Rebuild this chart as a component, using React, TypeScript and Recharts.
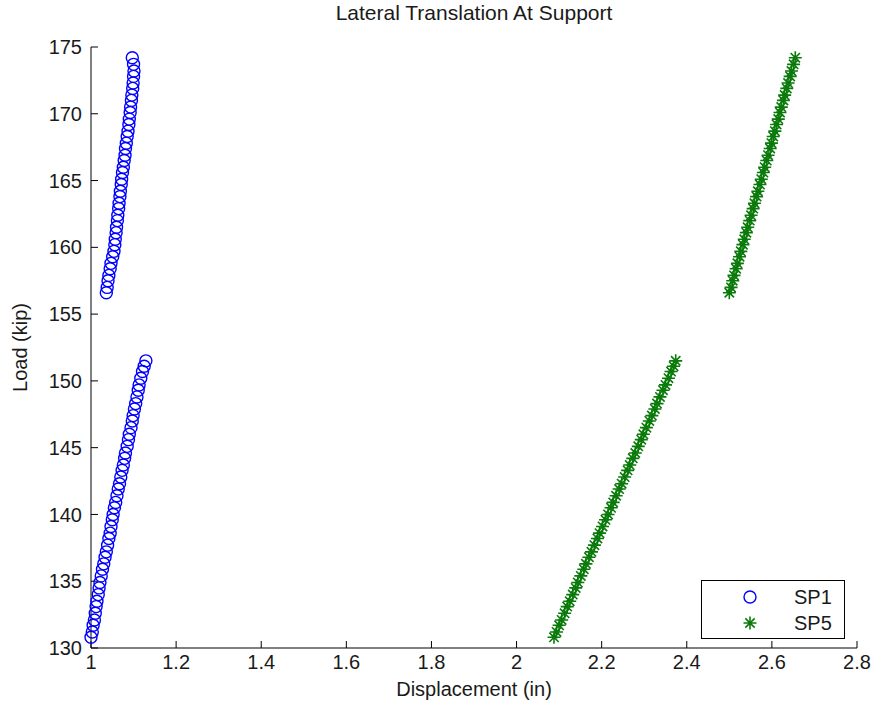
import { ScatterChart, Scatter, XAxis, YAxis, Legend } from 'recharts';

// load steps (kip), shared by both gauges
const loadLower = [
    130.8, 131.2, 131.7, 132.1, 132.6, 133.1, 133.5, 134.0, 134.5, 134.9,
    135.4, 135.9, 136.3, 136.8, 137.2, 137.7, 138.2, 138.6, 139.1, 139.6,
    140.0, 140.5, 140.9, 141.4, 141.9, 142.3, 142.8, 143.3, 143.7, 144.2,
    144.6, 145.1, 145.6, 146.0, 146.5, 147.0, 147.4, 147.9, 148.3, 148.8,
    149.3, 149.7, 150.2, 150.7, 151.1, 151.5,
];
const loadUpper = [
    156.6, 157.0, 157.5, 157.9, 158.4, 158.8, 159.3, 159.7, 160.2, 160.6,
    161.1, 161.5, 162.0, 162.4, 162.9, 163.3, 163.8, 164.2, 164.7, 165.1,
    165.6, 166.0, 166.5, 166.9, 167.4, 167.8, 168.3, 168.7, 169.2, 169.6,
    170.1, 170.5, 171.0, 171.4, 171.9, 172.3, 172.8, 173.2, 173.7, 174.2,
];

// displacement (in)
const sp1Lower = [
    1.000, 1.003, 1.005, 1.008, 1.010, 1.012, 1.014, 1.017, 1.019, 1.021,
    1.024, 1.027, 1.030, 1.033, 1.036, 1.039, 1.042, 1.045, 1.047, 1.050,
    1.052, 1.055, 1.058, 1.061, 1.064, 1.067, 1.070, 1.073, 1.076, 1.079,
    1.081, 1.085, 1.088, 1.090, 1.094, 1.097, 1.099, 1.102, 1.105, 1.108,
    1.111, 1.113, 1.117, 1.121, 1.125, 1.129,
];
const sp1Upper = [
    1.036, 1.038, 1.040, 1.042, 1.045, 1.047, 1.051, 1.054, 1.056, 1.057,
    1.059, 1.060, 1.062, 1.063, 1.065, 1.066, 1.068, 1.069, 1.071, 1.072,
    1.074, 1.076, 1.078, 1.080, 1.081, 1.083, 1.085, 1.087, 1.089, 1.090,
    1.092, 1.093, 1.095, 1.096, 1.098, 1.099, 1.100, 1.101, 1.100, 1.097,
];
const sp5Lower = [
    2.088, 2.094, 2.100, 2.106, 2.113, 2.119, 2.125, 2.132, 2.139, 2.144,
    2.151, 2.158, 2.163, 2.170, 2.176, 2.183, 2.190, 2.195, 2.202, 2.209,
    2.215, 2.222, 2.227, 2.234, 2.241, 2.247, 2.254, 2.261, 2.266, 2.273,
    2.279, 2.286, 2.293, 2.298, 2.305, 2.312, 2.318, 2.325, 2.330, 2.337,
    2.344, 2.350, 2.357, 2.363, 2.369, 2.374,
];
const sp5Upper = [
    2.500, 2.504, 2.508, 2.511, 2.516, 2.519, 2.524, 2.527, 2.532, 2.535,
    2.540, 2.543, 2.548, 2.551, 2.556, 2.559, 2.564, 2.567, 2.572, 2.575,
    2.580, 2.583, 2.588, 2.591, 2.596, 2.599, 2.603, 2.607, 2.611, 2.615,
    2.619, 2.622, 2.627, 2.630, 2.635, 2.638, 2.643, 2.646, 2.651, 2.655,
];

const xTicks = [1, 1.2, 1.4, 1.6, 1.8, 2, 2.2, 2.4, 2.6, 2.8];
const yTicks = [130, 135, 140, 145, 150, 155, 160, 165, 170, 175];

const BLUE = '#0000ff';
const GREEN = '#0a7a0a';
const FONT = '"Liberation Sans", Arial, sans-serif';
const TEXT = '#1a1a1a';

const toPoints = (disp: number[], load: number[]) => disp.map((x, i) => ({ x, y: load[i] }));
const sp1 = [...toPoints(sp1Lower, loadLower), ...toPoints(sp1Upper, loadUpper)];
const sp5 = [...toPoints(sp5Lower, loadLower), ...toPoints(sp5Upper, loadUpper)];

const Circle = ({ cx, cy }: any) => (
    <circle cx={cx} cy={cy} r={6} fill="none" stroke={BLUE} strokeWidth={1.4} />
);

const Star = ({ cx, cy }: any) => {
    const r = 6.5;
    const d = r * 0.72;
    return (
        <path
            d={`M${cx - r},${cy}H${cx + r}M${cx},${cy - r}V${cy + r}M${cx - d},${cy - d}L${cx + d},${cy + d}M${cx - d},${cy + d}L${cx + d},${cy - d}`}
            stroke={GREEN}
            strokeWidth={1.6}
            fill="none"
        />
    );
};

const LegendBox = ({ payload }: any) => (
    <div style={{ border: '1px solid #000', background: '#fff', width: 144, height: 59, boxSizing: 'border-box', padding: '3px 0 0 0', fontFamily: FONT, fontSize: 20, color: TEXT }}>
        {(payload || []).map((item: any) => (
            <div key={item.value} style={{ display: 'flex', alignItems: 'center', height: 26 }}>
                <svg width={92} height={20}>
                    {item.value === 'SP1' ? <Circle cx={48} cy={10} /> : <Star cx={48} cy={10} />}
                </svg>
                <span>{item.value}</span>
            </div>
        ))}
    </div>
);

export default function App() {
    return (
        <div style={{ position: 'absolute', left: 0, top: 0, width: 876, height: 715, background: '#fff', fontFamily: FONT }}>
            <div style={{ position: 'absolute', left: 91, top: 1, width: 766, textAlign: 'center', fontSize: 21, color: TEXT }}>
                Lateral Translation At Support
            </div>
            <ScatterChart width={876} height={715} margin={{ top: 47, right: 19, left: 0, bottom: 0 }}>
                <XAxis
                    type="number"
                    dataKey="x"
                    domain={[1, 2.8]}
                    ticks={xTicks}
                    height={67}
                    stroke="#000"
                    tickSize={-7}
                    tickMargin={14}
                    tick={{ fill: TEXT, fontSize: 20, fontFamily: FONT }}
                    label={{
                        content: ({ viewBox }: any) => (
                            <text x={viewBox.x + viewBox.width / 2} y={viewBox.y + 48} textAnchor="middle" fontSize={20} fontFamily={FONT} fill={TEXT}>
                                Displacement (in)
                            </text>
                        ),
                    }}
                />
                <YAxis
                    type="number"
                    dataKey="y"
                    domain={[130, 175]}
                    ticks={yTicks}
                    width={91}
                    stroke="#000"
                    tickSize={-7}
                    tickMargin={16}
                    tick={{ fill: TEXT, fontSize: 20, fontFamily: FONT }}
                    label={{
                        content: ({ viewBox }: any) => {
                            const cx = 20;
                            const cy = viewBox.y + viewBox.height / 2;
                            return (
                                <text x={cx} y={cy} transform={`rotate(-90 ${cx} ${cy})`} textAnchor="middle" dominantBaseline="central" fontSize={20} fontFamily={FONT} fill={TEXT}>
                                    Load (kip)
                                </text>
                            );
                        },
                    }}
                />
                <Legend
                    layout="horizontal"
                    verticalAlign="middle"
                    align="center"
                    content={<LegendBox />}
                    wrapperStyle={{ position: 'absolute', left: 701, top: 580, width: 144, height: 59 }}
                />
                <Scatter name="SP1" data={sp1} shape={Circle} isAnimationActive={false} />
                <Scatter name="SP5" data={sp5} shape={Star} isAnimationActive={false} />
            </ScatterChart>
        </div>
    );
}
